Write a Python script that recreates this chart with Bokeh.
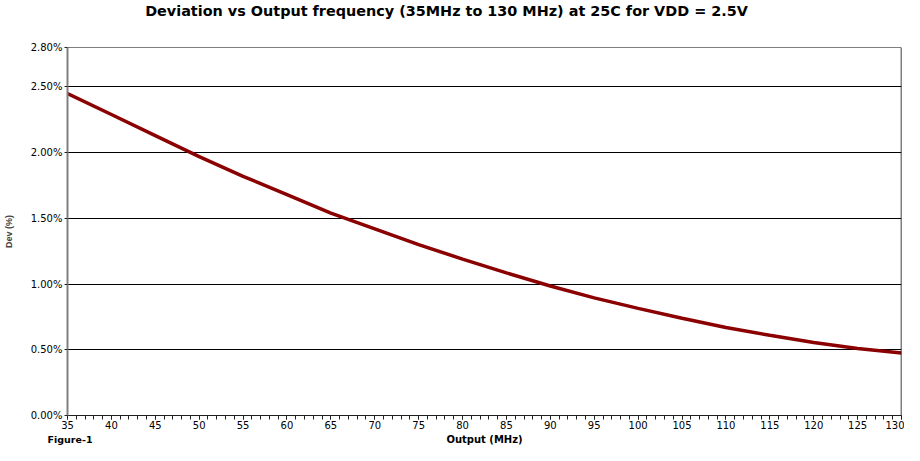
from bokeh.plotting import figure
from bokeh.layouts import column
from bokeh.models import FixedTicker, CustomJSTickFormatter, Span, Label
from bokeh.embed import file_html
from bokeh.resources import INLINE

# ---- data ----
freq_mhz = [35, 40, 45, 50, 55, 60, 65, 70, 75, 80, 85, 90, 95, 100, 105, 110, 115, 120, 125, 130]
dev_pct = [2.45, 2.29, 2.13, 1.97, 1.82, 1.68, 1.54, 1.42, 1.30, 1.19, 1.085, 0.985,
           0.895, 0.815, 0.74, 0.67, 0.61, 0.555, 0.51, 0.475]
x_major_ticks = [35, 40, 45, 50, 55, 60, 65, 70, 75, 80, 85, 90, 95, 100, 105, 110, 115, 120, 125, 130]
x_minor_ticks = list(range(35, 131))
y_ticks = [0.0, 0.5, 1.0, 1.5, 2.0, 2.5, 2.8]
y_grid_ticks = [0.5, 1.0, 1.5, 2.0, 2.5]
x_min, x_max = 35, 130
y_min, y_max = 0.0, 2.8

title_text = "Deviation vs Output frequency (35MHz to 130 MHz) at 25C for VDD = 2.5V"
x_label_text = "Output (MHz)"
y_label_text = "Dev (%)"
caption_text = "Figure-1"

# ---- layout (pixels) ----
W = 904
TOP_H = 22          # strip holding the title
MAIN_H = 410        # chart
BOT_H = 13          # strip holding axis title + caption
B_LEFT, B_RIGHT, B_TOP, B_BOTTOM = 67, 3, 25, 17


def text_strip(height, x_range):
    s = figure(width=W, height=height, x_range=x_range, y_range=(0, height),
               output_backend="svg", toolbar_location=None,
               x_axis_type=None, y_axis_type=None, min_border=0)
    s.outline_line_color = None
    s.background_fill_color = "white"
    s.border_fill_color = "white"
    return s


# ---- title strip (its frame lines up with the chart frame) ----
top = text_strip(TOP_H, (B_LEFT, W - B_RIGHT))
top.add_layout(Label(x=W / 2 - 6, y=TOP_H - 10, text=title_text,
                     text_font="DejaVu Sans", text_font_style="bold", text_font_size="14.4px",
                     text_align="center", text_baseline="middle", text_color="black"))

# ---- main chart ----
p = figure(width=W, height=MAIN_H, x_range=(x_min, x_max), y_range=(y_min, y_max),
           output_backend="svg", toolbar_location=None,
           min_border_left=B_LEFT, min_border_right=B_RIGHT,
           min_border_top=B_TOP, min_border_bottom=B_BOTTOM)
p.outline_line_color = None
p.background_fill_color = "white"
p.border_fill_color = "white"

xa = p.xaxis[0]
xa.ticker = FixedTicker(ticks=x_major_ticks, minor_ticks=x_minor_ticks)
xa.major_label_text_font = "DejaVu Sans"
xa.major_label_text_font_size = "10px"
xa.major_label_text_color = "black"
xa.major_label_standoff = 1
xa.major_tick_in = 0
xa.major_tick_out = 4
xa.minor_tick_in = 0
xa.minor_tick_out = 4
xa.axis_line_color = "#202020"
xa.major_tick_line_color = "#202020"
xa.minor_tick_line_color = "#202020"

ya = p.yaxis[0]
ya.ticker = FixedTicker(ticks=y_ticks)
ya.formatter = CustomJSTickFormatter(code="return tick.toFixed(2) + '%';")
ya.axis_label = y_label_text
ya.axis_label_text_font = "Liberation Sans"
ya.axis_label_text_font_style = "bold"
ya.axis_label_text_font_size = "9px"
ya.axis_label_standoff = 14
ya.major_label_text_font = "DejaVu Sans"
ya.major_label_text_font_size = "10px"
ya.major_label_text_color = "black"
ya.major_label_standoff = 2
ya.major_tick_in = 0
ya.major_tick_out = 3
ya.minor_tick_line_color = None
ya.axis_line_color = "#808080"
ya.axis_line_width = 2
ya.major_tick_line_color = "#202020"

p.xgrid.visible = False
p.ygrid.ticker = FixedTicker(ticks=y_grid_ticks)
p.ygrid.grid_line_color = "black"
p.ygrid.grid_line_width = 1
p.ygrid.grid_line_alpha = 1.0

# top and right frame borders
p.add_layout(Span(location=y_max, dimension="width", line_color="black", line_width=1))
p.add_layout(Span(location=x_max, dimension="height", line_color="black", line_width=1.5))

# curve
p.line(freq_mhz, dev_pct, line_color="#8B0000", line_width=3.5)

# ---- bottom strip: x-axis title and caption ----
bot = text_strip(BOT_H, (0, W))
frame_w = W - B_LEFT - B_RIGHT
bot.add_layout(Label(x=B_LEFT + frame_w / 2, y=BOT_H / 2, text=x_label_text,
                     text_font="DejaVu Sans", text_font_style="bold", text_font_size="10px",
                     text_align="center", text_baseline="middle", text_color="black"))
bot.add_layout(Label(x=B_LEFT - 20, y=BOT_H / 2, text=caption_text,
                     text_font="DejaVu Sans", text_font_style="bold", text_font_size="9.5px",
                     text_align="left", text_baseline="middle", text_color="black"))

layout = column(top, p, column(bot, spacing=0), spacing=0)
open("out.html", "w").write(file_html(layout, INLINE))
